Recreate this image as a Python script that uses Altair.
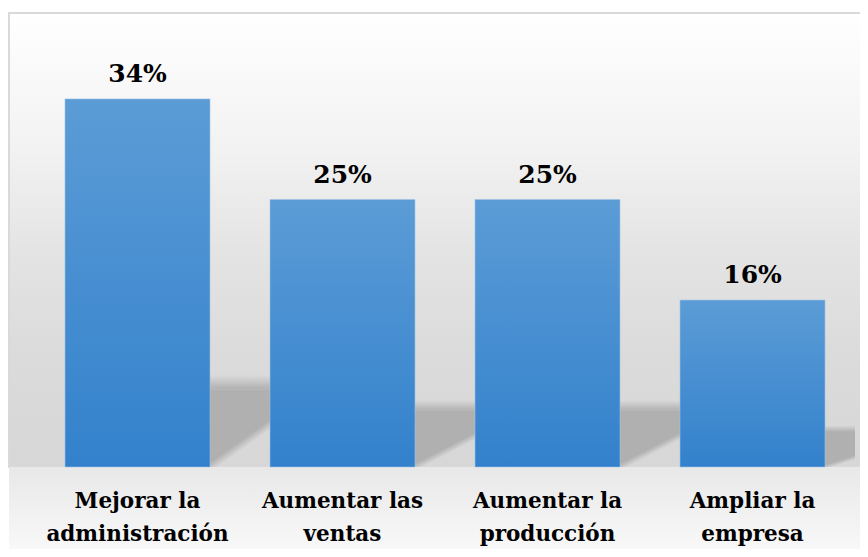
import altair as alt
import pandas as pd

categories = ["Mejorar la\nadministración", "Aumentar las\nventas", "Aumentar la\nproducción", "Ampliar la\nempresa"]
values = [34.4, 25.0, 25.0, 15.6]
labels = ["34%", "25%", "25%", "16%"]

df = pd.DataFrame({"cat": categories, "val": values, "lab": labels})
one = pd.DataFrame({"k": [0]})

FONT = "DejaVu Serif"
W, H = 820, 428

x_enc = alt.X("cat:N", sort=None, scale=alt.Scale(paddingInner=0.29, paddingOuter=0.145),
              axis=alt.Axis(title=None, labelAngle=0, domain=False, ticks=False, zindex=2,
                            labelFont=FONT, labelFontWeight="bold", labelFontSize=21.5,
                            labelColor="#000000", labelLineHeight=33, labelBaseline="top",
                            labelPadding=23, labelLimit=400,
                            labelExpr="split(datum.label, '\\n')"))
y_scale = alt.Scale(domain=[0, 40])

wall = alt.Chart(one).mark_rect(
    color=alt.LinearGradient(gradient="linear", x1=0, y1=0, x2=0, y2=1,
                             stops=[alt.GradientStop(color="#ffffff", offset=0),
                                    alt.GradientStop(color="#f2f2f2", offset=0.3),
                                    alt.GradientStop(color="#e4e4e4", offset=0.52),
                                    alt.GradientStop(color="#dbdbdb", offset=0.75),
                                    alt.GradientStop(color="#d7d7d7", offset=1)]),
    stroke="#d9d9d9", strokeWidth=2
).encode(x=alt.value(-26), x2=alt.value(826), y=alt.value(-26), y2=alt.value(H))

floor = alt.Chart(one).mark_rect(
    color=alt.LinearGradient(gradient="linear", x1=0, y1=0, x2=0, y2=1,
                             stops=[alt.GradientStop(color="#e8e8e8", offset=0),
                                    alt.GradientStop(color="#f8f8f8", offset=1)])
).encode(x=alt.value(-26), x2=alt.value(826), y=alt.value(H), y2=alt.value(H + 82))

base = alt.Chart(df).transform_calculate(s0="datum.val*0.21", s1="datum.val*0.25")

shadow = base.mark_bar(
    width=60, xOffset=102.5, clip=True,
    color=alt.LinearGradient(gradient="linear", x1=0, y1=0, x2=0.55, y2=1,
                             stops=[alt.GradientStop(color="#b0b0b0", offset=0),
                                    alt.GradientStop(color="#b0b0b0", offset=0.72),
                                    alt.GradientStop(color="rgba(176,176,176,0)", offset=0.82),
                                    alt.GradientStop(color="rgba(176,176,176,0)", offset=1)])
).encode(x=x_enc, y=alt.Y("s0:Q", scale=y_scale, axis=None), y2=alt.datum(0))

blur = base.mark_bar(
    width=60, xOffset=102.5, clip=True,
    color=alt.LinearGradient(gradient="linear", x1=0, y1=0, x2=0, y2=1,
                             stops=[alt.GradientStop(color="rgba(176,176,176,0)", offset=0),
                                    alt.GradientStop(color="#b0b0b0", offset=1)])
).encode(x=x_enc, y=alt.Y("s1:Q", scale=y_scale, axis=None), y2="s0:Q")

bars = alt.Chart(df).mark_bar(
    size=145,
    color=alt.LinearGradient(gradient="linear", x1=0, y1=0, x2=0, y2=1,
                             stops=[alt.GradientStop(color="#5b9cd6", offset=0),
                                    alt.GradientStop(color="#3381cc", offset=1)]),
    stroke="#9dc3e6", strokeWidth=0.6
).encode(x=x_enc, y=alt.Y("val:Q", scale=y_scale, axis=None))

text = alt.Chart(df).mark_text(
    baseline="alphabetic", dy=-17, font=FONT, fontWeight="bold", fontSize=25, color="#000000"
).encode(x=x_enc, y=alt.Y("val:Q", scale=y_scale, axis=None), text="lab:N")

chart = alt.layer(wall, floor, shadow, blur, bars, text).properties(
    width=W, height=H,
    autosize=alt.AutoSizeParams(type="none"),
    padding={"left": 27, "top": 31, "right": 5, "bottom": 82},
).configure_view(stroke=None).configure_axis(grid=False)

chart.save("out.html", embed_options={"renderer": "svg", "actions": False})
